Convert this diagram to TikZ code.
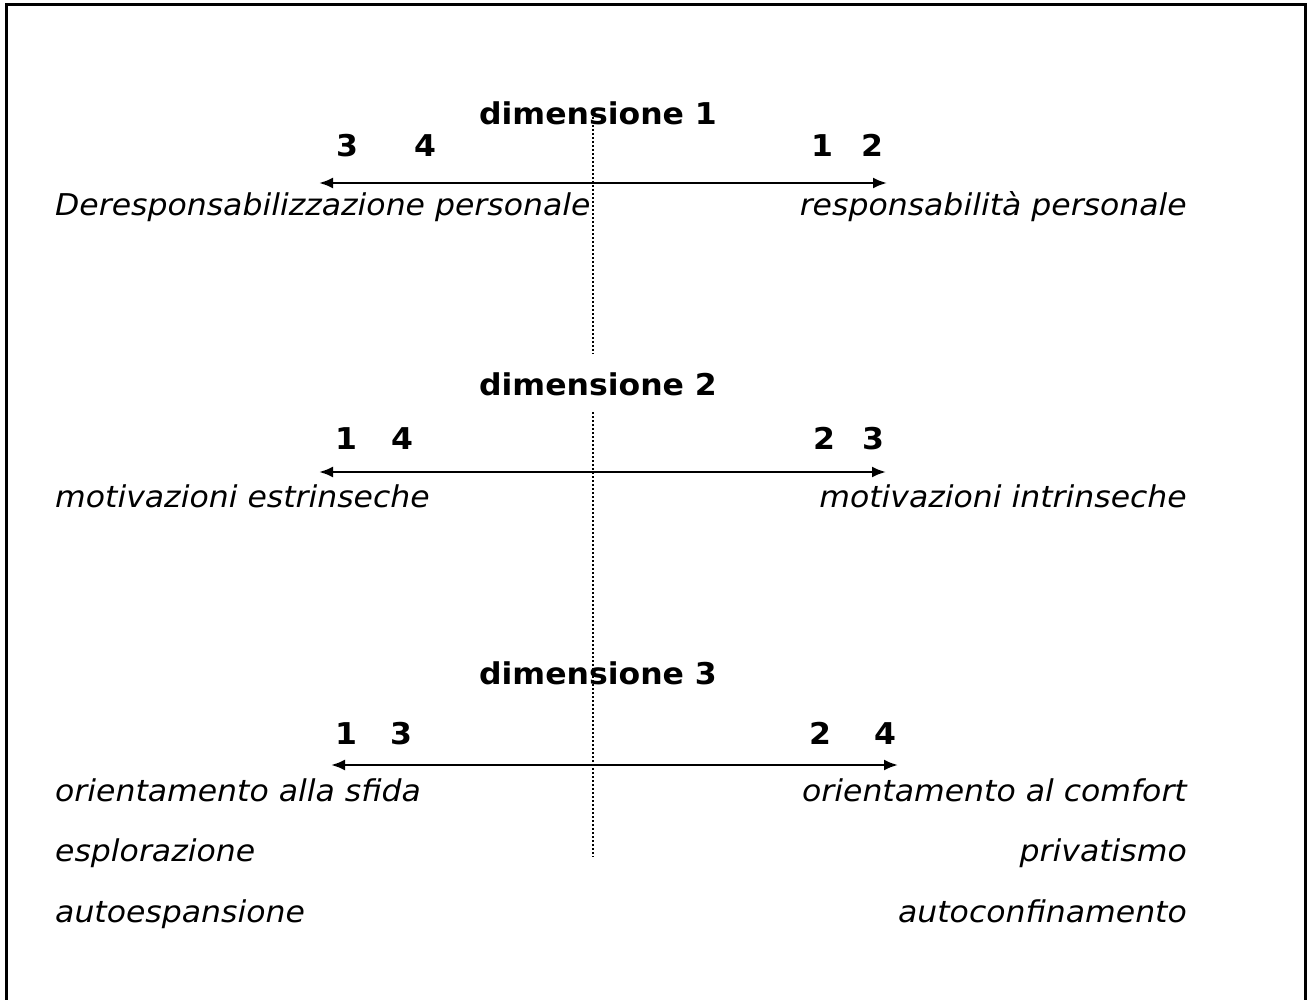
\documentclass[tikz,border=0pt]{standalone}
\usepackage{fontspec}
\setmainfont{DejaVu Sans}[FakeStretch=1.05]
\usetikzlibrary{arrows.meta}
\begin{document}
\begin{tikzpicture}[x=1pt,y=-1pt,
  title/.style={font=\fontsize{30}{34}\selectfont\bfseries, inner sep=0pt, anchor=base},
  num/.style={font=\fontsize{30}{34}\selectfont\bfseries, inner sep=0pt, anchor=base},
  lefttxt/.style={font=\fontsize{30}{34}\selectfont\itshape, inner sep=0pt, anchor=base west},
  righttxt/.style={font=\fontsize{30}{34}\selectfont\itshape, inner sep=0pt, anchor=base east},
  axis/.style={line width=2.4pt, {Latex[length=14pt,width=11pt]}-{Latex[length=14pt,width=11pt]}},
  divider/.style={line width=1.8pt, dash pattern=on 1.8pt off 2.2pt},
  frame/.style={line width=3pt}]
\useasboundingbox (0,0) rectangle (1309,1000);
\draw[frame] (6,1010) -- (6,5) -- (1305,5) -- (1305,1010);

% dimension 1
\node[title] (d1) at (598,125) {dimensione 1};
\node[num] (d1a) at (347,157) {3};
\node[num] (d1b) at (425,157) {4};
\node[num] (d1c) at (822,157) {1};
\node[num] (d1d) at (872,157) {2};
\coordinate (a1l) at (319,183);
\coordinate (a1r) at (887,183);
\draw[axis] (a1l) -- (a1r);
\node[lefttxt] (t1l) at (55,216) {Deresponsabilizzazione personale};
\node[righttxt] (t1r) at (1187,216) {responsabilità personale};

% dimension 2
\node[title] (d2) at (598,395) {dimensione 2};
\node[num] (d2a) at (346,449) {1};
\node[num] (d2b) at (402,449) {4};
\node[num] (d2c) at (824,449) {2};
\node[num] (d2d) at (873,449) {3};
\coordinate (a2l) at (319,472);
\coordinate (a2r) at (886,472);
\draw[axis] (a2l) -- (a2r);
\node[lefttxt] (t2l) at (55,507) {motivazioni estrinseche};
\node[righttxt] (t2r) at (1187,507) {motivazioni intrinseche};

% dimension 3
\node[title] (d3) at (598,684) {dimensione 3};
\node[num] (d3a) at (346,744) {1};
\node[num] (d3b) at (401,744) {3};
\node[num] (d3c) at (820,744) {2};
\node[num] (d3d) at (885,744) {4};
\coordinate (a3l) at (331,765);
\coordinate (a3r) at (898,765);
\draw[axis] (a3l) -- (a3r);
\node[lefttxt] (t3l) at (55,801) {orientamento alla sfida};
\node[righttxt] (t3r) at (1187,801) {orientamento al comfort};
\node[lefttxt] (t4l) at (55,861) {esplorazione};
\node[righttxt] (t4r) at (1187,861) {privatismo};
\node[lefttxt] (t5l) at (55,922) {autoespansione};
\node[righttxt] (t5r) at (1187,922) {autoconfinamento};

% dotted divider
\coordinate (v1t) at (593,117);
\coordinate (v1b) at (593,354);
\coordinate (v2t) at (593,412);
\coordinate (v2b) at (593,857);
\draw[divider] (v1t) -- (v1b);
\draw[divider] (v2t) -- (v2b);
\end{tikzpicture}
\end{document}
